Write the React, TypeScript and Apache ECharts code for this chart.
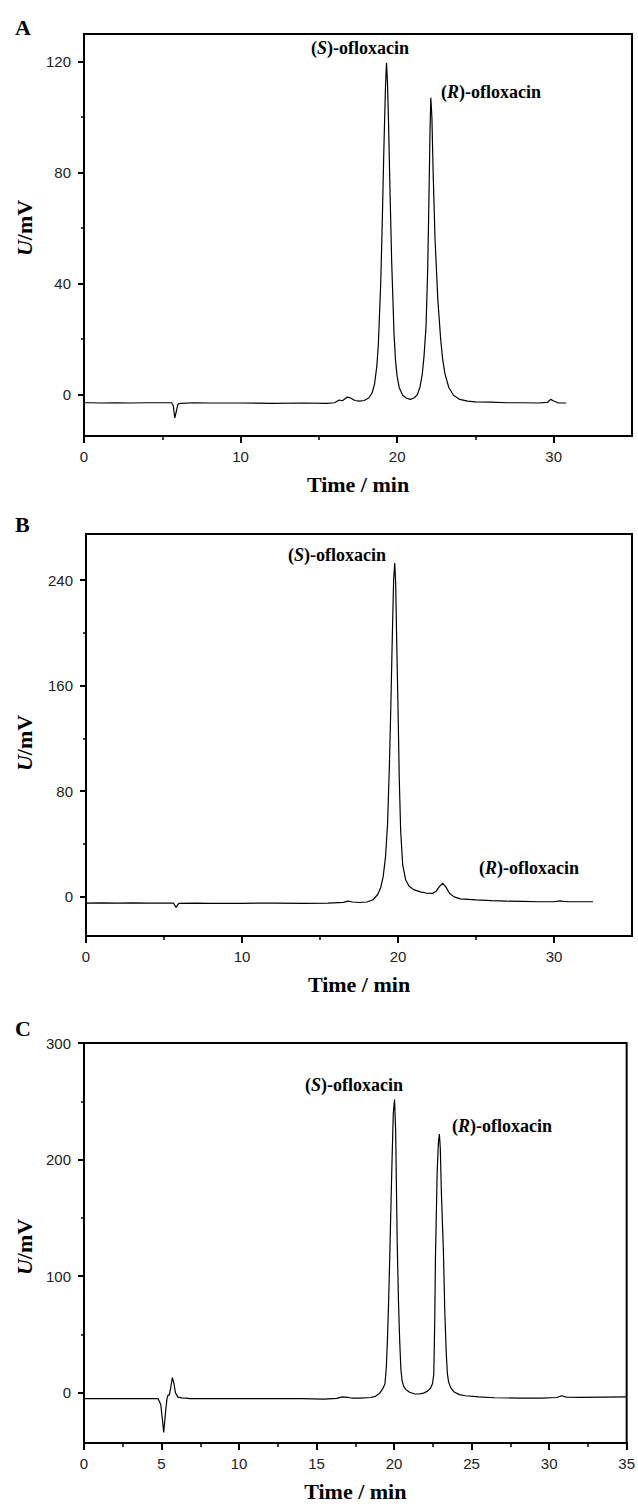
import React, { useEffect, useRef } from "react";
import * as echarts from "echarts";

// ---- Panel A trace (time / min, signal / mV) ----
const traceA: number[][] = [
  [0, -3], [0.5, -3], [1, -3.1], [2, -3], [3, -3.1], [4, -3], [5, -3], [5.6, -3],
  [5.7, -4], [5.8, -8.5], [5.9, -6], [6.0, -3.5], [6.2, -3.2], [7, -3], [8, -3.1],
  [10, -3.1], [12, -3.2], [14, -3.1], [15.5, -3.2], [16, -3], [16.3, -2], [16.5, -2.3],
  [16.8, -1], [17, -1.2], [17.3, -2.2], [17.6, -2.4], [17.9, -2.2], [18.2, -1.2],
  [18.4, 0.5], [18.55, 3.5], [18.7, 10], [18.8, 18], [18.95, 40], [19.05, 62],
  [19.15, 88], [19.25, 110], [19.32, 119.6], [19.38, 113], [19.45, 98], [19.55, 72],
  [19.65, 48], [19.8, 22], [19.9, 12], [20.0, 6.5], [20.13, 2.5], [20.35, -0.3],
  [20.6, -1.4], [20.85, -1.8], [21.1, -1.2], [21.3, 0], [21.45, 2.5], [21.6, 7],
  [21.72, 14], [21.85, 25], [21.95, 45], [22.03, 70], [22.1, 95], [22.15, 107],
  [22.22, 100], [22.3, 80], [22.42, 56], [22.6, 34], [22.78, 20], [22.9, 13],
  [23.05, 7.5], [23.3, 2.5], [23.6, -0.3], [24, -1.8], [24.5, -2.4], [25, -2.7],
  [26, -2.8], [27, -3], [28, -3], [29, -3.1], [29.6, -2.9], [29.8, -1.8], [30, -2.4],
  [30.3, -3.1], [30.8, -3.1],
];

// ---- Panel B trace ----
const traceB: number[][] = [
  [0, -5], [1, -4.8], [2, -5], [3, -4.9], [4, -5], [5, -5], [5.6, -5], [5.77, -8.3],
  [5.95, -5.2], [7, -5], [8, -5.2], [10, -5.2], [12, -5], [14, -5.2], [15.5, -5],
  [16.5, -4.5], [16.8, -3.5], [17.1, -4.2], [17.5, -4.6], [18, -4.2], [18.4, -2.5],
  [18.7, 1.5], [18.9, 7], [19.05, 15], [19.2, 30], [19.33, 55], [19.45, 100],
  [19.54, 144], [19.65, 205], [19.72, 240], [19.79, 253], [19.85, 238], [19.92, 192],
  [20.0, 144], [20.08, 90], [20.17, 50], [20.3, 24], [20.49, 12.7], [20.7, 8],
  [21.0, 5.2], [21.44, 3.5], [21.8, 2.6], [22.2, 2.3], [22.45, 4], [22.65, 7.5],
  [22.87, 10], [23.05, 7.5], [23.3, 2.5], [23.6, -0.3], [24, -1.8], [25, -2.6],
  [26, -3.2], [27, -3.6], [28, -3.8], [29, -4], [30, -4], [30.4, -3.3], [30.6, -3.8],
  [31, -4], [32.5, -4],
];

// ---- Panel C trace ----
const traceC: number[][] = [
  [0, -5], [2, -5], [4, -5], [4.78, -5], [4.95, -10], [5.05, -22], [5.14, -34],
  [5.25, -18], [5.35, -5], [5.42, -2], [5.5, -2], [5.6, 5], [5.7, 13], [5.8, 8],
  [5.9, 0], [6.06, -3.7], [6.3, -4.3], [6.6, -4.5], [6.8, -5], [8, -5], [10, -5],
  [12, -5], [14, -5], [15.5, -5.3], [16.3, -4.8], [16.67, -3.5], [17, -3.8],
  [17.3, -4.6], [17.8, -4.6], [18.5, -4], [18.8, -3], [19.05, -0.5], [19.25, 3],
  [19.41, 7.6], [19.5, 22], [19.57, 45], [19.64, 75], [19.73, 122], [19.85, 190],
  [19.95, 240], [20.03, 251.5], [20.1, 225], [20.2, 130], [20.28, 80], [20.36, 45],
  [20.44, 20], [20.52, 10], [20.62, 5.5], [20.75, 3], [21.0, 0.5], [21.3, -0.8],
  [21.6, -1], [21.9, -0.3], [22.15, 1.5], [22.35, 4], [22.48, 8], [22.56, 16],
  [22.62, 60], [22.67, 118], [22.78, 190], [22.86, 215], [22.92, 222], [22.98, 210],
  [23.05, 172], [23.18, 122], [23.27, 70], [23.36, 35], [23.44, 16], [23.52, 9],
  [23.65, 4.5], [23.85, 1], [24.2, -1.5], [24.6, -2.5], [25.45, -3.5], [26.5, -4.2],
  [28, -4.5], [29.5, -4.5], [30.5, -4], [30.8, -2.5], [31.1, -3.7], [32, -3.8],
  [35, -3.5],
];

// ---- Axis ranges and ticks ----
const xRange = [0, 35];
const xTicksAB = [0, 10, 20, 30];
const xMinorAB = [5, 15, 25];
const xTicksC = [0, 5, 10, 15, 20, 25, 30, 35];
const xMinorC = [2.5, 7.5, 12.5, 17.5, 22.5, 27.5, 32.5];
const yRangeA = [-15, 130];
const yTicksA = [0, 40, 80, 120];
const yMinorA = [20, 60, 100];
const yRangeB = [-30, 275];
const yTicksB = [0, 80, 160, 240];
const yMinorB = [40, 120, 200];
const yRangeC = [-43, 300];
const yTicksC = [0, 100, 200, 300];
const yMinorC = [50, 150, 250];

const panelLetters = ["A", "B", "C"];
const xTitle = "Time / min";

const SERIF = "'Liberation Serif', 'Times New Roman', serif";
const SANS = "'Liberation Sans', Arial, sans-serif";

export default function App() {
  const ref = useRef<HTMLDivElement>(null);

  useEffect(() => {
    if (!ref.current) return;
    const chart = echarts.init(ref.current, undefined, { renderer: "svg" });

    const panels = [
      { grid: { left: 84, top: 34, width: 548, height: 402 }, data: traceA, yr: yRangeA, yt: yTicksA, ym: yMinorA, xt: xTicksAB, xm: xMinorAB },
      { grid: { left: 86, top: 534, width: 546, height: 402 }, data: traceB, yr: yRangeB, yt: yTicksB, ym: yMinorB, xt: xTicksAB, xm: xMinorAB },
      { grid: { left: 84, top: 1043, width: 544, height: 400 }, data: traceC, yr: yRangeC, yt: yTicksC, ym: yMinorC, xt: xTicksC, xm: xMinorC },
    ];

    const grids: any[] = [];
    const xAxes: any[] = [];
    const yAxes: any[] = [];
    const series: any[] = [];

    panels.forEach((p, i) => {
      grids.push({
        ...p.grid,
        show: true,
        borderColor: "#000",
        borderWidth: 2,
        backgroundColor: "transparent",
      });
      xAxes.push({
        type: "value",
        gridIndex: i,
        min: xRange[0],
        max: xRange[1],
        position: "bottom",
        axisLine: { show: true, onZero: false, lineStyle: { color: "#000", width: 2 } },
        axisTick: { show: true, customValues: p.xt, length: 7, lineStyle: { color: "#000", width: 2 } },
        axisLabel: { customValues: p.xt, margin: 13, fontSize: 15, fontFamily: SANS, color: "#222" },
        splitLine: { show: false },
        name: xTitle,
        nameLocation: "middle",
        nameGap: 37,
        nameTextStyle: { fontFamily: SERIF, fontWeight: "bold", fontSize: 22, color: "#000" },
      });
      xAxes.push({
        type: "value",
        gridIndex: i,
        min: xRange[0],
        max: xRange[1],
        position: "bottom",
        axisLine: { show: false, onZero: false },
        axisTick: { show: true, customValues: p.xm, length: 4, lineStyle: { color: "#000", width: 1.5 } },
        axisLabel: { show: false },
        splitLine: { show: false },
      });
      yAxes.push({
        type: "value",
        gridIndex: i,
        min: p.yr[0],
        max: p.yr[1],
        position: "left",
        axisLine: { show: true, onZero: false, lineStyle: { color: "#000", width: 2 } },
        axisTick: { show: true, customValues: p.yt, length: 6, lineStyle: { color: "#000", width: 2 } },
        axisLabel: { customValues: p.yt, margin: 13, fontSize: 15, fontFamily: SANS, color: "#222" },
        splitLine: { show: false },
      });
      yAxes.push({
        type: "value",
        gridIndex: i,
        min: p.yr[0],
        max: p.yr[1],
        position: "left",
        axisLine: { show: false, onZero: false },
        axisTick: { show: true, customValues: p.ym, length: 3, lineStyle: { color: "#000", width: 1.5 } },
        axisLabel: { show: false },
        splitLine: { show: false },
      });
      series.push({
        type: "line",
        xAxisIndex: i * 2,
        yAxisIndex: i * 2,
        data: p.data,
        showSymbol: false,
        symbol: "none",
        smooth: false,
        lineStyle: { color: "#000", width: 1.2 },
        clip: true,
      });
    });

    const peakRich = {
      n: { fontFamily: SERIF, fontWeight: "bold", fontSize: 18, fill: "#000" },
      i: { fontFamily: SERIF, fontWeight: "bold", fontStyle: "italic", fontSize: 18, fill: "#000" },
    };
    const yNameRich = {
      n: { fontFamily: SERIF, fontWeight: "bold", fontSize: 22, fill: "#000" },
      i: { fontFamily: SERIF, fontWeight: "bold", fontStyle: "italic", fontSize: 22, fill: "#000" },
    };

    const peakLabel = (x: number, y: number, letter: string) => ({
      type: "text",
      x,
      y,
      style: {
        text: `{n|(}{i|${letter}}{n|)-ofloxacin}`,
        rich: peakRich,
        align: "center",
        verticalAlign: "middle",
      },
    });

    const letterPos = [[15, 27], [15, 524], [15, 1028]];
    const yNamePos = [[24, 228], [24, 743], [24, 1247]];

    const graphic: any[] = [];
    panelLetters.forEach((l, i) => {
      graphic.push({
        type: "text",
        x: letterPos[i][0],
        y: letterPos[i][1],
        style: {
          text: l,
          font: `bold 22px ${SERIF}`,
          fill: "#000",
          align: "left",
          verticalAlign: "middle",
        },
      });
      graphic.push({
        type: "text",
        x: yNamePos[i][0],
        y: yNamePos[i][1],
        rotation: Math.PI / 2,
        style: {
          text: "{i|U}{n|/mV}",
          rich: yNameRich,
          align: "center",
          verticalAlign: "middle",
        },
      });
    });
    graphic.push(peakLabel(360, 48, "S"));
    graphic.push(peakLabel(491, 92, "R"));
    graphic.push(peakLabel(337, 555, "S"));
    graphic.push(peakLabel(529, 868, "R"));
    graphic.push(peakLabel(354, 1085, "S"));
    graphic.push(peakLabel(502, 1126, "R"));

    chart.setOption({
      animation: false,
      backgroundColor: "#fff",
      grid: grids,
      xAxis: xAxes,
      yAxis: yAxes,
      series,
      graphic,
    });

    return () => chart.dispose();
  }, []);

  return (
    <div
      ref={ref}
      style={{ position: "absolute", left: 0, top: 0, width: 638, height: 1504 }}
    />
  );
}
